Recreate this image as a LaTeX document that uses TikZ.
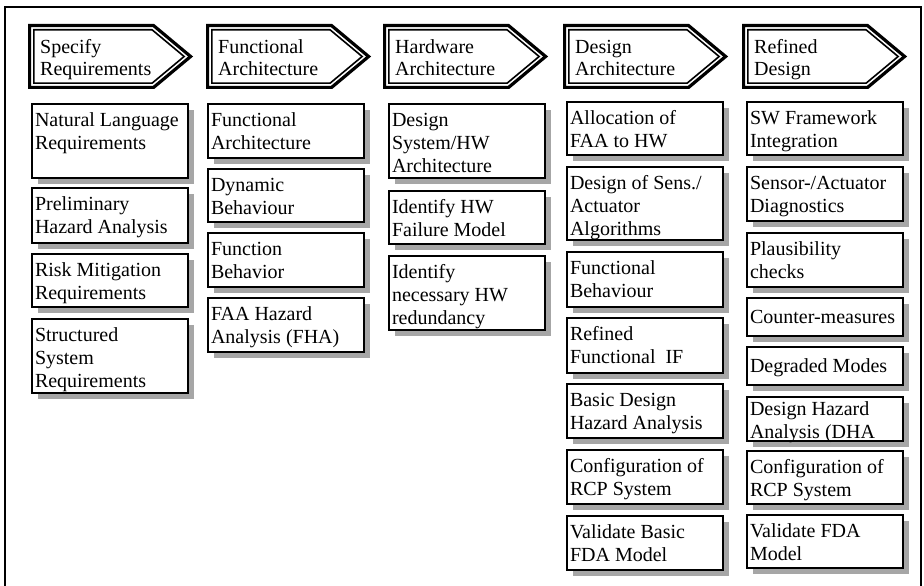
\documentclass[tikz,border=0pt]{standalone}
\usepackage{fontspec}
\setmainfont{Liberation Serif}
\usetikzlibrary{shadows}

% text block of a task box, set from the top
\newcommand{\cell}[2]{\parbox[t][#1][t]{150pt}{\raggedright\strut#2}}

\tikzset{
  task/.style={draw, line width=1.6pt, fill=white, anchor=north west,
    inner xsep=3pt, inner ysep=6pt, outer sep=0pt,
    font=\fontsize{20}{23}\selectfont,
    drop shadow={shadow xshift=6pt, shadow yshift=-6pt, fill=black!35, opacity=1}},
  stage outer/.style={line width=3.2pt, line join=miter, fill=white},
  stage inner/.style={line width=1.6pt, line join=miter},
  stage text/.style={anchor=north west, inner sep=0pt, font=\fontsize{20}{22}\selectfont}
}

\begin{document}
\begin{tikzpicture}[x=1pt, y=-1pt]
  \useasboundingbox (0,0) rectangle (924,586);

  % Frame
  \draw [line width=1.3pt] (5,586) -- (5,7) -- (921,7) -- (921,586);

  % Phase arrows
  \foreach \x/\nm/\txt in {28/spec/{Specify\\Requirements}, 206/func/{Functional\\Architecture},
      383/hw/{Hardware\\Architecture}, 563/des/{Design\\Architecture}, 742/refd/{Refined\\Design}} {
    \begin{scope}[shift={(\x+1.6,25.6)}]
      \draw [stage outer] (0,0) -- (124,0) -- (161,30.9) -- (124,61.8) -- (0,61.8) -- cycle;
      \draw [stage inner] (4.2,4.2) -- (122.5,4.2) -- (154.5,30.9) -- (122.5,57.6) -- (4.2,57.6) -- cycle;
      \node [stage text] (\nm) at (10.4,12) {\parbox[t]{140pt}{\strut\txt}};
    \end{scope}
  }

  % Specify requirements
  \node [task] (nlr) at (32,104) {\cell{62pt}{Natural Language\\Requirements}};
  \node [task] (pha) at (32,188) {\cell{43pt}{Preliminary\\Hazard Analysis}};
  \node [task] (rmr) at (32,254) {\cell{41pt}{Risk Mitigation\\Requirements}};
  \node [task] (ssr) at (32,319) {\cell{62pt}{Structured\\System\\Requirements}};

  % Functional architecture
  \node [task] (fa) at (208,104) {\cell{42pt}{Functional\\Architecture}};
  \node [task] (dyn) at (208,169) {\cell{41pt}{Dynamic\\Behaviour}};
  \node [task] (fb) at (208,233) {\cell{42pt}{Function\\Behavior}};
  \node [task] (fha) at (208,298) {\cell{42pt}{FAA Hazard\\Analysis (FHA)}};

  % Hardware architecture
  \node [task] (dsa) at (389,104) {\cell{62pt}{Design\\System/HW\\Architecture}};
  \node [task] (hwf) at (389,191) {\cell{41pt}{Identify HW\\Failure Model}};
  \node [task] (hwr) at (389,256) {\cell{62pt}{Identify\\necessary HW\\redundancy}};

  % Design architecture
  \node [task] (alloc) at (567,102) {\cell{41pt}{Allocation of\\FAA to HW}};
  \node [task] (sens) at (567,167) {\cell{61pt}{Design of Sens./\\Actuator\\Algorithms}};
  \node [task] (fbeh) at (567,252) {\cell{43pt}{Functional\\Behaviour}};
  \node [task] (rfif) at (567,318) {\cell{43pt}{Refined\\Functional\ \ IF}};
  \node [task] (bdha) at (567,384) {\cell{42pt}{Basic Design\\Hazard Analysis}};
  \node [task] (rcpa) at (567,450) {\cell{42pt}{Configuration of\\RCP System}};
  \node [task] (fdaa) at (567,516) {\cell{42pt}{Validate Basic\\FDA Model}};

  % Refined design
  \node [task] (swf) at (747,102) {\cell{41pt}{SW Framework\\Integration}};
  \node [task] (diag) at (747,167) {\cell{42pt}{Sensor-/Actuator\\Diagnostics}};
  \node [task] (plaus) at (747,233) {\cell{42pt}{Plausibility\\checks}};
  \node [task, inner ysep=9pt] (cm) at (747,298) {\cell{20pt}{Counter-measures}};
  \node [task, inner ysep=9pt] (dm) at (747,347) {\cell{20pt}{Degraded Modes}};
  \node [task, inner ysep=2pt] (dha) at (747,397) {\cell{40pt}{Design Hazard\\Analysis (DHA}};
  \node [task] (rcpb) at (747,451) {\cell{41pt}{Configuration of\\RCP System}};
  \node [task] (fdab) at (747,515) {\cell{41pt}{Validate FDA\\Model}};
\end{tikzpicture}
\end{document}
